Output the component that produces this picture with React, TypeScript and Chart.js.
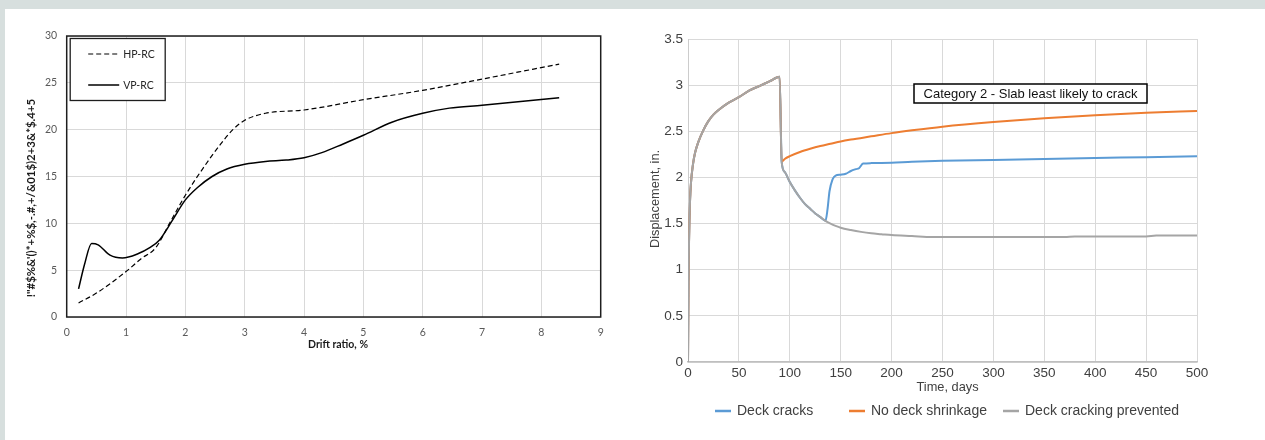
import React, { useEffect, useRef } from "react";
import { Chart, registerables } from "chart.js";

Chart.register(...registerables);

// ---------- Left panel: response vs drift ratio ----------
const hpDrift = [0.2, 0.5, 1.0, 1.25, 1.5, 1.75, 2.0, 2.3, 2.6, 2.8, 3.0, 3.35, 4.0, 5.0, 6.0, 7.0, 8.3];
const hpResponse = [1.5, 2.55, 4.85, 6.2, 7.4, 10.2, 13.0, 15.9, 18.5, 20.0, 21.0, 21.75, 22.1, 23.2, 24.2, 25.4, 27.0];

const vpDrift = [0.2, 0.3, 0.42, 0.53, 0.73, 0.94, 1.2, 1.4, 1.56, 1.77, 2.0, 2.2, 2.45, 2.7, 3.0, 3.35, 3.7, 4.0, 4.3, 4.65, 5.0, 5.48, 6.0, 6.45, 7.0, 8.3];
const vpResponse = [3.0, 5.6, 7.85, 7.7, 6.6, 6.3, 6.75, 7.4, 8.2, 10.2, 12.5, 13.8, 15.0, 15.8, 16.3, 16.6, 16.75, 17.0, 17.55, 18.45, 19.4, 20.8, 21.75, 22.3, 22.6, 23.4];

const driftTickLabels = ["0", "1", "2", "3", "4", "5", "6", "7", "8", "9"];
const responseTickLabels = ["0", "5", "10", "15", "20", "25", "30"];
const driftSeriesNames = ["HP-RC", "VP-RC"];
const driftAxisTitle = "Drift ratio, %";
const responseAxisTitle = "!\"#$%&'()*+%$,-.#,+/&01$)2+3&*$.4+5";

// ---------- Right panel: displacement vs time ----------
const loadingDays = [0, 0.5, 1, 2, 3, 5, 7, 10, 15, 20, 25, 30, 40, 50, 60, 70, 80, 90];
const loadingDisp = [0, 0.85, 1.3, 1.75, 1.95, 2.15, 2.27, 2.38, 2.51, 2.61, 2.68, 2.73, 2.81, 2.87, 2.94, 2.99, 3.04, 3.09];

const crackDays = [92, 95, 100, 105, 110, 115, 120, 125, 130, 135, 137, 139, 142, 145, 150, 155, 160, 165, 168, 172, 180, 200, 220, 250, 300, 350, 400, 450, 500];
const crackDisp = [2.17, 2.06, 1.95, 1.86, 1.78, 1.71, 1.66, 1.61, 1.57, 1.53, 1.65, 1.85, 1.98, 2.02, 2.03, 2.04, 2.07, 2.09, 2.1, 2.15, 2.155, 2.16, 2.17, 2.18, 2.19, 2.2, 2.21, 2.22, 2.23];

const noShrinkDays = [92, 95, 100, 110, 120, 130, 140, 150, 160, 180, 200, 220, 250, 300, 350, 400, 450, 500];
const noShrinkDisp = [2.17, 2.2, 2.23, 2.275, 2.31, 2.34, 2.365, 2.39, 2.41, 2.445, 2.48, 2.51, 2.55, 2.6, 2.64, 2.675, 2.7, 2.72];

const preventedDays = [92, 95, 100, 105, 110, 115, 120, 125, 130, 135, 140, 145, 150, 160, 170, 180, 190, 200, 220, 240, 300, 370, 380, 450, 460, 500];
const preventedDisp = [2.17, 2.06, 1.95, 1.86, 1.78, 1.71, 1.66, 1.61, 1.57, 1.53, 1.5, 1.475, 1.455, 1.43, 1.41, 1.395, 1.385, 1.375, 1.365, 1.355, 1.355, 1.355, 1.36, 1.36, 1.37, 1.37];

const timeTickLabels = ["0", "50", "100", "150", "200", "250", "300", "350", "400", "450", "500"];
const dispTickLabels = ["0", "0.5", "1", "1.5", "2", "2.5", "3", "3.5"];
const timeSeriesNames = ["Deck cracks", "No deck shrinkage", "Deck cracking prevented"];
const timeSeriesColors = ["#5b9bd5", "#ed7d31", "#a5a5a5"];
const timeAxisTitle = "Time, days";
const dispAxisTitle = "Displacement, in.";
const categoryNote = "Category 2 - Slab least likely to crack";

const toPoints = (xs: number[], ys: number[]) => xs.map((x, i) => ({ x, y: ys[i] }));

const LEFT_FONT = "Lato, 'Open Sans', sans-serif";
const RIGHT_FONT = "'Liberation Sans', Arial, sans-serif";

// Frame, boxed legend and axis titles for the drift chart
const driftDecor = {
  id: "driftDecor",
  afterDatasetsDraw(chart: any) {
    const { ctx, chartArea: a } = chart;
    ctx.save();
    ctx.strokeStyle = "#1e1e1e";
    ctx.lineWidth = 1.5;
    ctx.strokeRect(a.left, a.top, a.right - a.left, a.bottom - a.top);

    const bx = a.left + 3.5;
    const by = a.top + 2.5;
    ctx.fillStyle = "#ffffff";
    ctx.fillRect(bx, by, 95, 62);
    ctx.lineWidth = 1.3;
    ctx.strokeRect(bx, by, 95, 62);

    ctx.strokeStyle = "#000";
    ctx.fillStyle = "#262626";
    ctx.font = `10.5px ${LEFT_FONT}`;
    ctx.textBaseline = "middle";
    ctx.textAlign = "left";
    const rows = [a.top + 18, a.top + 49];
    rows.forEach((y, i) => {
      ctx.beginPath();
      ctx.lineWidth = i === 0 ? 1.2 : 1.5;
      ctx.setLineDash(i === 0 ? [5, 3] : []);
      ctx.moveTo(a.left + 21.5, y);
      ctx.lineTo(a.left + 52.5, y);
      ctx.stroke();
      ctx.setLineDash([]);
      ctx.fillText(driftSeriesNames[i], a.left + 56.5, y + 0.5);
    });
    ctx.restore();
  },
  afterDraw(chart: any) {
    const { ctx } = chart;
    ctx.save();
    ctx.fillStyle = "#1a1a1a";
    ctx.font = `bold 10.5px ${LEFT_FONT}`;
    ctx.textAlign = "center";
    ctx.textBaseline = "middle";
    ctx.fillText(driftAxisTitle, 333, 336);
    ctx.translate(26.5, 189);
    ctx.rotate(-Math.PI / 2);
    ctx.font = `bold 11.4px ${LEFT_FONT}`;
    ctx.fillText(responseAxisTitle, 0, 0);
    ctx.restore();
  },
};

// Note box, legend and axis titles for the displacement chart
const timeDecor = {
  id: "timeDecor",
  afterDraw(chart: any) {
    const { ctx } = chart;
    ctx.save();
    // note box
    ctx.fillStyle = "#ffffff";
    ctx.fillRect(284, 75, 233, 19);
    ctx.strokeStyle = "#000";
    ctx.lineWidth = 1.5;
    ctx.strokeRect(284, 75, 233, 19);
    ctx.fillStyle = "#111";
    ctx.font = `13px ${RIGHT_FONT}`;
    ctx.textAlign = "center";
    ctx.textBaseline = "middle";
    ctx.fillText(categoryNote, 400.5, 85);

    // axis titles
    ctx.fillStyle = "#404040";
    ctx.font = `12.8px ${RIGHT_FONT}`;
    ctx.fillText(timeAxisTitle, 317.5, 378);
    ctx.save();
    ctx.translate(25, 190);
    ctx.rotate(-Math.PI / 2);
    ctx.fillText(dispAxisTitle, 0, 0);
    ctx.restore();

    // legend
    const starts = [85, 219, 373];
    ctx.font = `14px ${RIGHT_FONT}`;
    ctx.textAlign = "left";
    starts.forEach((x, i) => {
      ctx.strokeStyle = timeSeriesColors[i];
      ctx.lineWidth = 2.5;
      ctx.beginPath();
      ctx.moveTo(x, 402);
      ctx.lineTo(x + 16, 402);
      ctx.stroke();
      ctx.fillStyle = "#404040";
      ctx.fillText(timeSeriesNames[i], x + 22, 402);
    });
    ctx.restore();
  },
};

function driftConfig(): any {
  return {
    type: "line",
    data: {
      datasets: [
        {
          label: driftSeriesNames[0],
          data: toPoints(hpDrift, hpResponse),
          borderColor: "#000",
          borderWidth: 1.2,
          borderDash: [5, 3],
          pointRadius: 0,
          cubicInterpolationMode: "monotone",
        },
        {
          label: driftSeriesNames[1],
          data: toPoints(vpDrift, vpResponse),
          borderColor: "#000",
          borderWidth: 1.5,
          pointRadius: 0,
          cubicInterpolationMode: "monotone",
        },
      ],
    },
    options: {
      animation: false,
      responsive: false,
      layout: { padding: { left: 11.7, right: 29.3, top: 27, bottom: 0 } },
      plugins: { legend: { display: false }, tooltip: { enabled: false } },
      scales: {
        x: {
          type: "linear",
          min: 0,
          max: 9,
          ticks: {
            stepSize: 1,
            padding: 9.5,
            color: "#595959",
            font: { family: LEFT_FONT, size: 10.5 },
            maxRotation: 0,
            callback: (_v: any, i: number) => driftTickLabels[i],
          },
          grid: { color: "#d9d9d9", drawTicks: false },
          border: { display: false },
          afterFit: (s: any) => { s.height = 123; },
        },
        y: {
          type: "linear",
          min: 0,
          max: 30,
          ticks: {
            stepSize: 5,
            padding: 9.5,
            color: "#595959",
            font: { family: LEFT_FONT, size: 10.5 },
            callback: (_v: any, i: number) => responseTickLabels[i],
          },
          grid: { color: "#d9d9d9", drawTicks: false },
          border: { display: false },
          afterFit: (s: any) => { s.width = 50; },
        },
      },
    },
    plugins: [driftDecor],
  };
}

function timeConfig(): any {
  const series = [
    toPoints(loadingDays.concat(crackDays), loadingDisp.concat(crackDisp)),
    toPoints(loadingDays.concat(noShrinkDays), loadingDisp.concat(noShrinkDisp)),
    toPoints(loadingDays.concat(preventedDays), loadingDisp.concat(preventedDisp)),
  ];
  const drawOrder = [3, 2, 1];
  return {
    type: "line",
    data: {
      datasets: series.map((data, i) => ({
        label: timeSeriesNames[i],
        data,
        borderColor: timeSeriesColors[i],
        borderWidth: 2,
        pointRadius: 0,
        cubicInterpolationMode: "monotone",
        order: drawOrder[i],
      })),
    },
    options: {
      animation: false,
      responsive: false,
      layout: { padding: { left: 8, right: 68, top: 30, bottom: 0 } },
      plugins: { legend: { display: false }, tooltip: { enabled: false } },
      scales: {
        x: {
          type: "linear",
          min: 0,
          max: 500,
          ticks: {
            stepSize: 50,
            padding: 3,
            color: "#404040",
            font: { family: RIGHT_FONT, size: 13.5 },
            maxRotation: 0,
            callback: (_v: any, i: number) => timeTickLabels[i],
          },
          grid: { color: "#d9d9d9", drawTicks: false },
          border: { color: "#bfbfbf", width: 1.5 },
          afterFit: (s: any) => { s.height = 78; },
        },
        y: {
          type: "linear",
          min: 0,
          max: 3.5,
          ticks: {
            stepSize: 0.5,
            padding: 5,
            color: "#404040",
            font: { family: RIGHT_FONT, size: 13.5 },
            callback: (_v: any, i: number) => dispTickLabels[i],
          },
          grid: { color: "#d9d9d9", drawTicks: false },
          border: { color: "#cccccc", width: 1 },
          afterFit: (s: any) => { s.width = 50; },
        },
      },
    },
    plugins: [timeDecor],
  };
}

export default function App() {
  const driftRef = useRef<HTMLCanvasElement>(null);
  const timeRef = useRef<HTMLCanvasElement>(null);

  useEffect(() => {
    const left = new Chart(driftRef.current as HTMLCanvasElement, driftConfig());
    const right = new Chart(timeRef.current as HTMLCanvasElement, timeConfig());
    return () => {
      left.destroy();
      right.destroy();
    };
  }, []);

  return (
    <div
      style={{
        position: "fixed",
        left: 0,
        top: 0,
        width: 1265,
        height: 440,
        background: "#d7dfde",
        overflow: "hidden",
      }}
    >
      <div style={{ position: "absolute", left: 5, top: 9, width: 1260, height: 431, background: "#ffffff" }} />
      <canvas ref={driftRef} width={625} height={431} style={{ position: "absolute", left: 5, top: 9 }} />
      <canvas ref={timeRef} width={635} height={431} style={{ position: "absolute", left: 630, top: 9 }} />
    </div>
  );
}
